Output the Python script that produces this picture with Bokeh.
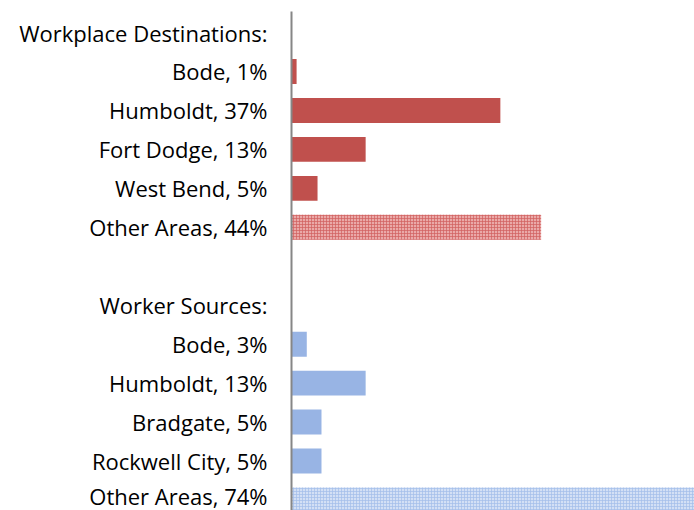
from bokeh.plotting import figure
from bokeh.models import Range1d, FixedTicker
from bokeh.embed import file_html
from bokeh.resources import INLINE

labels = ["Workplace Destinations:", "Bode, 1%", "Humboldt, 37%", "Fort Dodge, 13%",
          "West Bend, 5%", "Other Areas, 44%", "", "Worker Sources:", "Bode, 3%",
          "Humboldt, 13%", "Bradgate, 5%", "Rockwell City, 5%", "Other Areas, 74%"]
dest_rows = [1, 2, 3, 4]
dest_vals = [0.9, 36.9, 13.1, 4.6]
dest_other_row = [5]
dest_other_val = [44.1]
src_rows = [8, 9, 10, 11]
src_vals = [2.7, 13.1, 5.3, 5.3]
src_other_row = [12]
src_other_val = [74.0]

p = figure(width=694, height=510, output_backend="svg", toolbar_location=None,
           x_range=Range1d(0, 71.2), y_range=Range1d(12.27, -0.54),
           min_border_left=291, min_border_right=0, min_border_top=11, min_border_bottom=0)

p.hbar(y=dest_rows, right=dest_vals, left=0, height=0.64, fill_color="#C0504D", line_color=None)
p.hbar(y=dest_other_row, right=dest_other_val, left=0, height=0.64, fill_color="#EAA9A8",
       line_color=None, hatch_pattern="cross", hatch_color="#D05F5E", hatch_scale=3, hatch_weight=1, hatch_alpha=0.7)
p.hbar(y=src_rows, right=src_vals, left=0, height=0.64, fill_color="#98B4E4", line_color=None)
p.hbar(y=src_other_row, right=src_other_val, left=0, height=0.64, fill_color="#D3E0F5",
       line_color=None, hatch_pattern="cross", hatch_color="#A3BDEA", hatch_scale=3, hatch_weight=1, hatch_alpha=0.7)

p.xaxis.visible = False
p.xgrid.visible = False
p.ygrid.visible = False
p.outline_line_color = None

ya = p.yaxis[0]
ya.ticker = FixedTicker(ticks=list(range(len(labels))))
ya.major_label_overrides = {i: (l if l else " ") for i, l in enumerate(labels)}
ya.major_tick_line_color = None
ya.minor_tick_line_color = None
ya.axis_line_color = "#868686"
ya.axis_line_width = 2
ya.major_label_standoff = 18
ya.major_label_text_font = "Open Sans"
ya.major_label_text_font_size = "22px"
ya.major_label_text_color = "#000000"

open("out.html", "w").write(file_html(p, INLINE))
